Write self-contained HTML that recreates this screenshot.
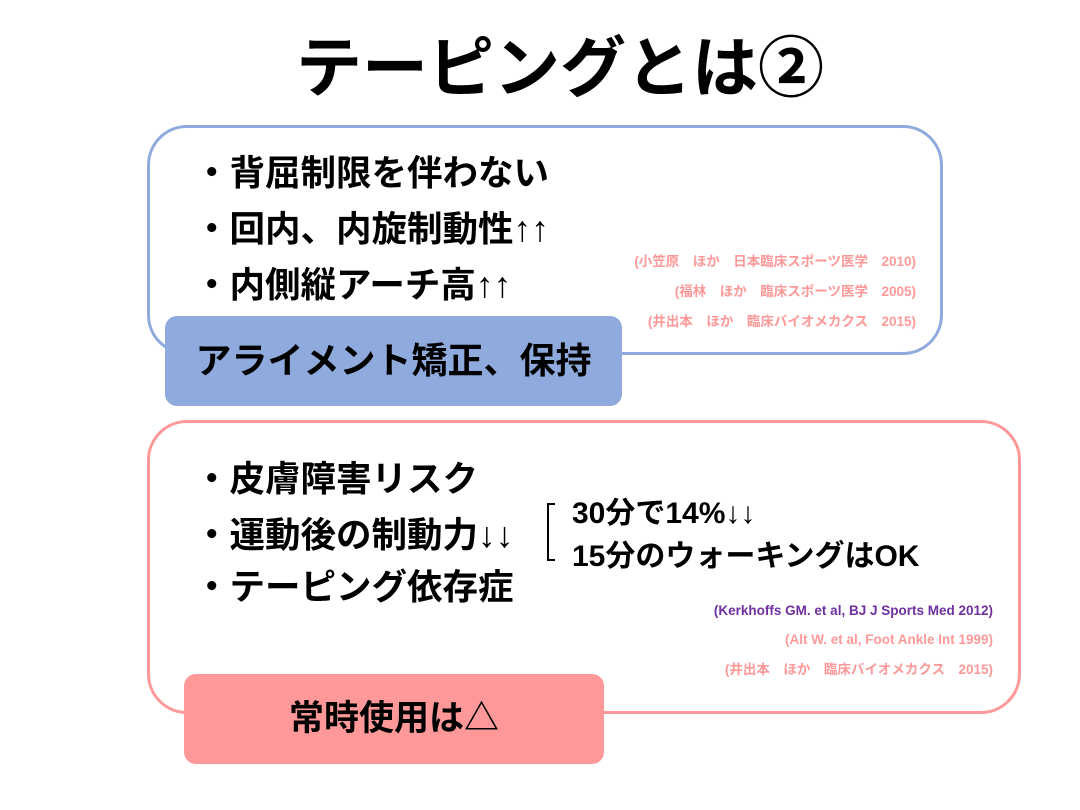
<!DOCTYPE html>
<html><head><meta charset="utf-8"><style>
body{margin:0;width:1080px;height:810px;background:#fff;position:relative;overflow:hidden;font-family:"Liberation Sans","Noto Sans CJK JP",sans-serif;font-weight:bold;color:#000}
.a{position:absolute;white-space:nowrap}
.box{position:absolute;box-sizing:border-box}
.ref{position:absolute;font-size:13.5px;line-height:16px;text-align:right;white-space:nowrap}
</style></head><body>
<div class="a" style="left:0;width:1120px;text-align:center;top:28px;font-size:66px;line-height:80px">テーピングとは②</div>

<div class="box" style="left:147px;top:125px;width:796px;height:230px;border:3px solid #8faadc;border-radius:40px"></div>
<div class="a" style="left:194px;top:152px;font-size:35.5px;line-height:42px">・背屈制限を伴わない</div>
<div class="a" style="left:194px;top:208px;font-size:35.5px;line-height:42px">・回内、内旋制動性↑↑</div>
<div class="a" style="left:194px;top:264px;font-size:35.5px;line-height:42px">・内側縦アーチ高↑↑</div>
<div class="ref" style="right:164px;top:254px;color:#ff9999">(小笠原　ほか　日本臨床スポーツ医学　2010)</div>
<div class="ref" style="right:164px;top:284px;color:#ff9999">(福林　ほか　臨床スポーツ医学　2005)</div>
<div class="ref" style="right:164px;top:314px;color:#ff9999">(井出本　ほか　臨床バイオメカクス　2015)</div>
<div class="box" style="left:165px;top:316px;width:457px;height:90px;background:#8faadc;border-radius:12px;font-size:36px;line-height:90px;text-align:center">アライメント矯正、保持</div>

<div class="box" style="left:147px;top:420px;width:874px;height:294px;border:3px solid #ff9999;border-radius:40px"></div>
<div class="a" style="left:194px;top:458px;font-size:35.5px;line-height:42px">・皮膚障害リスク</div>
<div class="a" style="left:194px;top:514px;font-size:35.5px;line-height:42px">・運動後の制動力↓↓</div>
<div class="a" style="left:194px;top:566px;font-size:35.5px;line-height:42px">・テーピング依存症</div>
<div class="box" style="left:547px;top:503px;width:8px;height:58px;border:2px solid #000;border-right:none"></div>
<div class="a" style="left:572px;top:495px;font-size:30px;line-height:38px">30分で14%↓↓</div>
<div class="a" style="left:572px;top:538px;font-size:30px;line-height:38px">15分のウォーキングはOK</div>
<div class="ref" style="right:87px;top:603px;color:#7030a0">(Kerkhoffs GM. et al, BJ J Sports Med 2012)</div>
<div class="ref" style="right:87px;top:632px;color:#ff9999">(Alt W. et al, Foot Ankle Int 1999)</div>
<div class="ref" style="right:87px;top:662px;color:#ff9999">(井出本　ほか　臨床バイオメカクス　2015)</div>
<div class="box" style="left:184px;top:674px;width:420px;height:90px;background:#ff9999;border-radius:12px;font-size:35px;line-height:90px;text-align:center">常時使用は△</div>
</body></html>
